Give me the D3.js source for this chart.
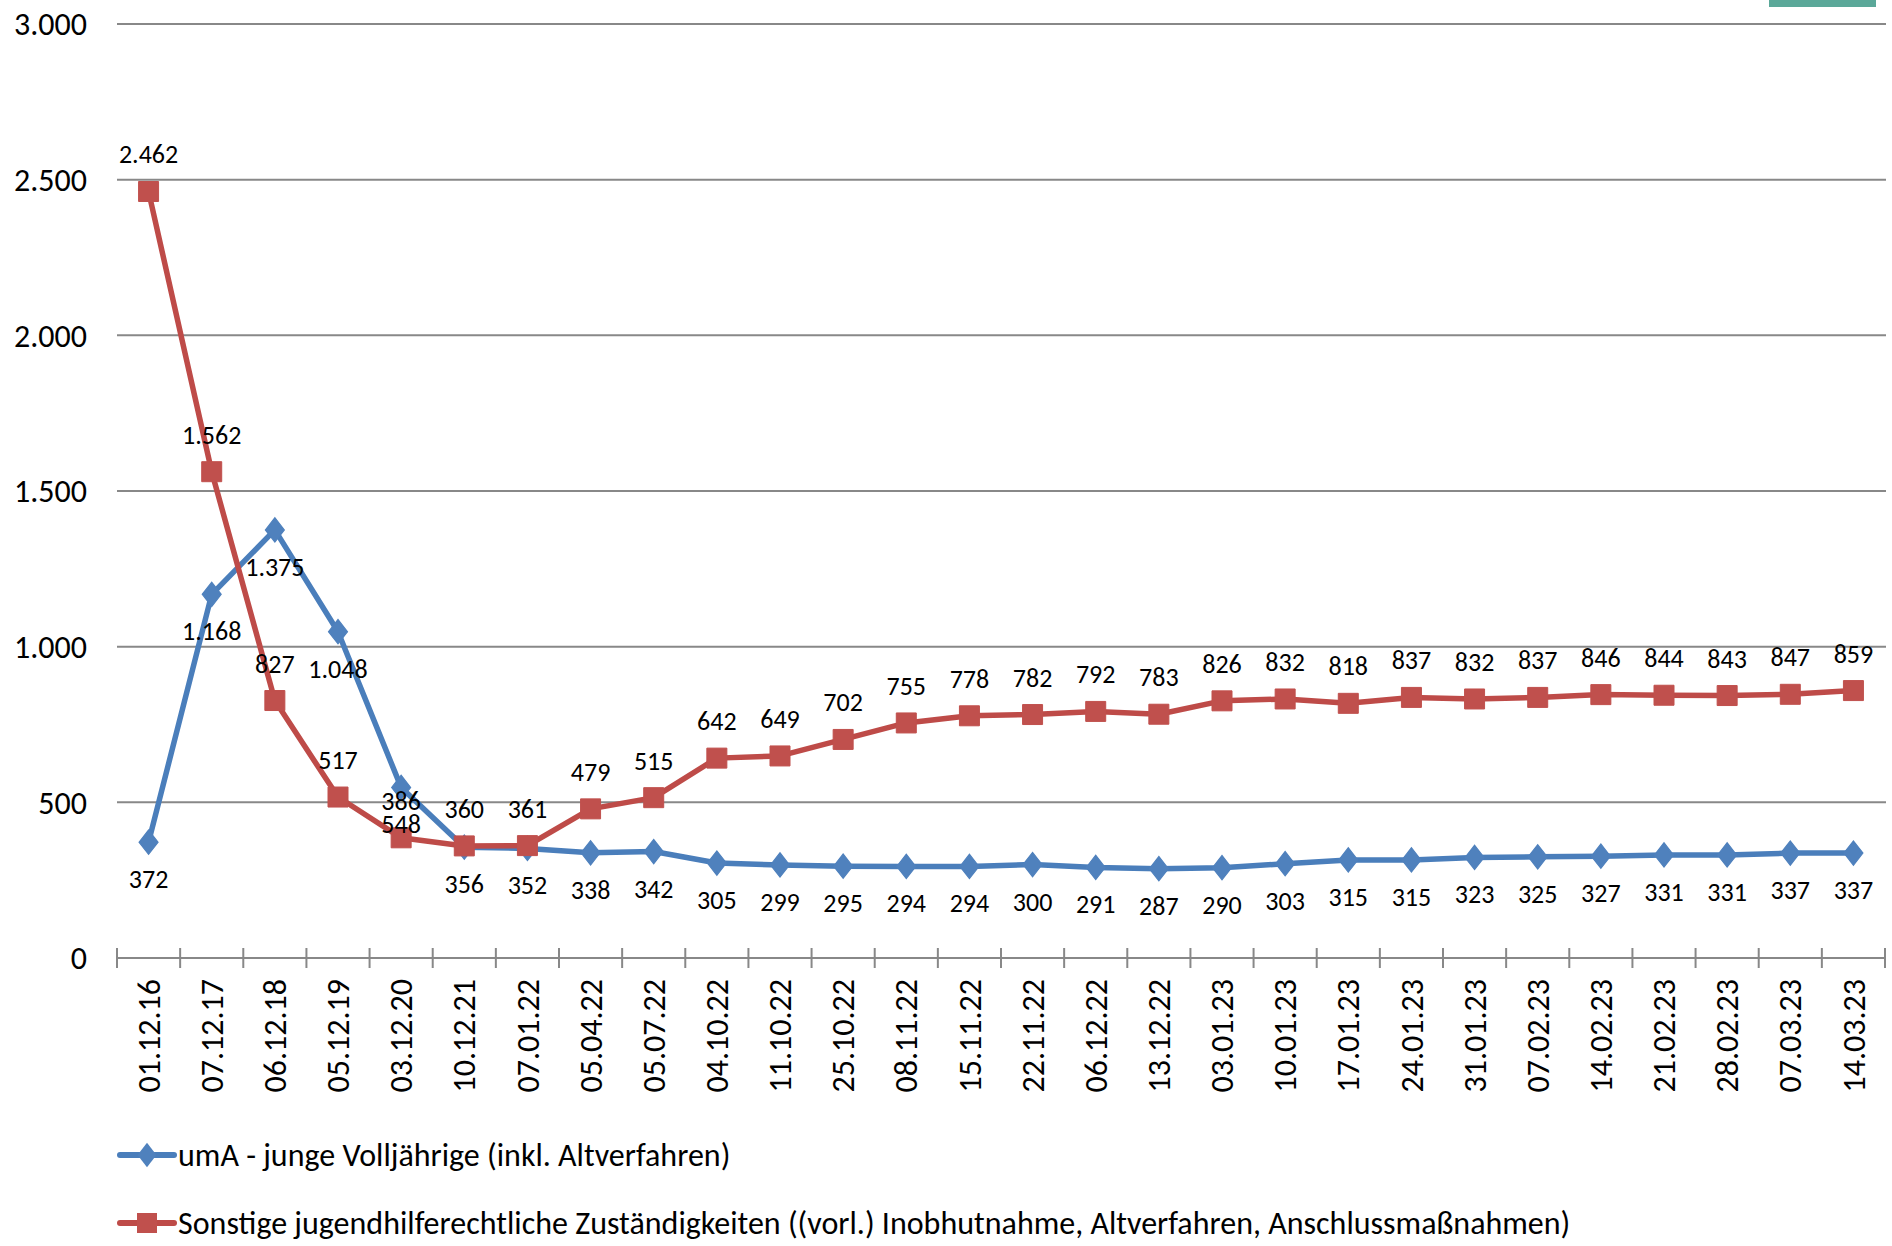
<!DOCTYPE html>
<html>
<head>
<meta charset="utf-8">
<script src="https://cdn.jsdelivr.net/npm/d3@7"></script>
<style>
  body { margin: 0; background: #fff; }
  text { font-family: Carlito, Lato, "Open Sans", sans-serif; fill: #000; }
</style>
</head>
<body>
<div id="chart"></div>
<script>
// Stichtage
const dates = ['01.12.16', '07.12.17', '06.12.18', '05.12.19', '03.12.20', '10.12.21', '07.01.22',
  '05.04.22', '05.07.22', '04.10.22', '11.10.22', '25.10.22', '08.11.22', '15.11.22', '22.11.22',
  '06.12.22', '13.12.22', '03.01.23', '10.01.23', '17.01.23', '24.01.23', '31.01.23', '07.02.23',
  '14.02.23', '21.02.23', '28.02.23', '07.03.23', '14.03.23'];

const umA = [372, 1168, 1375, 1048, 548, 356, 352, 338, 342, 305, 299, 295, 294, 294, 300, 291,
  287, 290, 303, 315, 315, 323, 325, 327, 331, 331, 337, 337];

const sonstige = [2462, 1562, 827, 517, 386, 360, 361, 479, 515, 642, 649, 702, 755, 778, 782, 792,
  783, 826, 832, 818, 837, 832, 837, 846, 844, 843, 847, 859];

const yTicks = [0, 500, 1000, 1500, 2000, 2500, 3000];

const seriesNames = [
  'umA - junge Volljährige (inkl. Altverfahren)',
  'Sonstige jugendhilferechtliche Zuständigkeiten ((vorl.) Inobhutnahme, Altverfahren, Anschlussmaßnahmen)'
];

const width = 1892, height = 1246;
const margin = { left: 117, right: 7, top: 24, bottom: 288 };

const de = d3.formatLocale({ decimal: ',', thousands: '.', grouping: [3], currency: ['', ' €'] });
const fmt = de.format(',d');

const svg = d3.select('#chart').append('svg')
  .attr('width', width)
  .attr('height', height);

// green strip top right
svg.append('rect')
  .attr('x', 1769).attr('y', 0)
  .attr('width', 107).attr('height', 7)
  .attr('fill', '#5ba899');

let x = d3.scaleBand()
  .domain(dates)
  .range([margin.left, width - margin.right]);

let y = d3.scaleLinear()
  .domain([0, 3000])
  .range([height - margin.bottom, margin.top]);

// gridlines
svg.append('g')
  .selectAll('line')
  .data(yTicks.filter(d => d > 0))
  .enter().append('line')
  .attr('x1', margin.left).attr('x2', width - 6)
  .attr('y1', d => y(d)).attr('y2', d => y(d))
  .attr('stroke', '#888')
  .attr('stroke-width', 2);

// y axis labels
svg.append('g')
  .selectAll('text')
  .data(yTicks)
  .enter().append('text')
  .attr('x', 87)
  .attr('y', d => y(d))
  .attr('dy', '0.35em')
  .attr('text-anchor', 'end')
  .style('font-size', '32px')
  .text(d => fmt(d));

// x axis with ticks crossing the line
const x0 = y(0);
svg.append('line')
  .attr('x1', margin.left).attr('x2', width - margin.right)
  .attr('y1', x0).attr('y2', x0)
  .attr('stroke', '#888').attr('stroke-width', 2);

svg.append('g')
  .selectAll('line')
  .data(dates.map(d => x(d)).concat([x.range()[1]]))
  .enter().append('line')
  .attr('x1', d => d).attr('x2', d => d)
  .attr('y1', x0 - 10).attr('y2', x0 + 10)
  .attr('stroke', '#888').attr('stroke-width', 2);

svg.append('g')
  .selectAll('text')
  .data(dates)
  .enter().append('text')
  .attr('transform', d => 'translate(' + (x(d) + x.bandwidth() / 2) + ',' + (x0 + 21) + ') rotate(-90)')
  .attr('dy', '0.35em')
  .attr('text-anchor', 'end')
  .style('font-size', '32px')
  .text(d => d);

const cx = d => x(d) + x.bandwidth() / 2;

const series = [
  { name: seriesNames[0], values: umA, line: '#4a7ebb', fill: '#4f81bd', symbol: d3.symbolDiamond, size: 170, labelDy: 46 },
  { name: seriesNames[1], values: sonstige, line: '#be4b48', fill: '#c0504d', symbol: d3.symbolSquare, size: 400, labelDy: -28 }
];

const line = d3.line()
  .x(d => cx(d.date))
  .y(d => y(d.value));

// draw series 1 first, then series 2 on top (Excel order)
series.forEach(s => {
  const pts = dates.map((d, i) => ({ date: d, value: s.values[i] }));
  const g = svg.append('g');

  g.append('path')
    .datum(pts)
    .attr('d', line)
    .attr('fill', 'none')
    .attr('stroke', s.line)
    .attr('stroke-width', 5.5)
    .attr('stroke-linejoin', 'round')
    .attr('stroke-linecap', 'round');

  g.selectAll('path.marker')
    .data(pts)
    .enter().append('path')
    .attr('class', 'marker')
    .attr('d', d3.symbol().type(s.symbol).size(s.size))
    .attr('transform', d => 'translate(' + cx(d.date) + ',' + y(d.value) + ')' + (s.symbol === d3.symbolDiamond ? ' scale(1.35,1)' : ''))
    .attr('fill', s.fill)
    .attr('stroke', s.fill)
    .attr('stroke-width', 1);

  s.pts = pts;
});

// data labels
series.forEach(s => {
  svg.append('g')
    .selectAll('text')
    .data(s.pts)
    .enter().append('text')
    .attr('x', d => cx(d.date))
    .attr('y', d => y(d.value) + s.labelDy)
    .attr('text-anchor', 'middle')
    .style('font-size', '26px')
    .text(d => fmt(d.value));
});

// legend
const legend = svg.append('g');
const legendY = [1155, 1223];
series.forEach((s, i) => {
  const row = legend.append('g').attr('transform', 'translate(0,' + legendY[i] + ')');
  row.append('line')
    .attr('x1', 120).attr('x2', 174)
    .attr('y1', 0).attr('y2', 0)
    .attr('stroke', s.line).attr('stroke-width', 6)
    .attr('stroke-linecap', 'round');
  row.append('path')
    .attr('d', d3.symbol().type(s.symbol).size(s.size))
    .attr('transform', 'translate(147,0)' + (s.symbol === d3.symbolDiamond ? ' scale(1.35,1)' : ''))
    .attr('fill', s.fill);
  row.append('text')
    .attr('x', 178)
    .attr('y', 0)
    .attr('dy', '0.35em')
    .style('font-size', '32px')
    .text(s.name);
});
</script>
</body>
</html>
